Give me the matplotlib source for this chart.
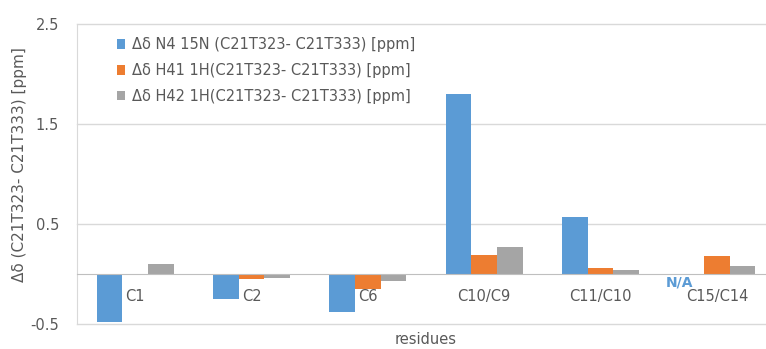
import numpy as np
import matplotlib
matplotlib.use("Agg")
import matplotlib.pyplot as plt

residues = ["C1", "C2", "C6", "C10/C9", "C11/C10", "C15/C14"]
n4_15n = [-0.48, -0.25, -0.38, 1.80, 0.57, np.nan]
h41_1h = [0.0, -0.05, -0.15, 0.19, 0.06, 0.18]
h42_1h = [0.10, -0.04, -0.07, 0.27, 0.045, 0.08]
labels = ["Δδ N4 15N (C21T323- C21T333) [ppm]",
          "Δδ H41 1H(C21T323- C21T333) [ppm]",
          "Δδ H42 1H(C21T323- C21T333) [ppm]"]
colors = ["#5B9BD5", "#ED7D31", "#A5A5A5"]

txt = "#595959"
plt.rcParams['font.family'] = ['DejaVu Sans']

fig = plt.figure(figsize=(7.66, 3.49), dpi=100)
ax = fig.add_axes([77 / 766, 25 / 349, 698 / 766, 300 / 349])

x = np.arange(len(residues))
w = 0.22
for i, (vals, lab, c) in enumerate(zip([n4_15n, h41_1h, h42_1h], labels, colors)):
    ax.bar(x + (i - 1) * w, vals, w, color=c, label=lab, zorder=3)

# missing value marker
for xi, v in zip(x, n4_15n):
    if np.isnan(v):
        ax.text(xi - w * 1.45, -0.01, "N/A", color=colors[0], fontsize=10,
                fontweight='bold', ha='center', va='top')

ax.set_xlim(-0.5, len(residues) - 0.5)
ax.set_ylim(-0.5, 2.5)
ax.set_yticks([-0.5, 0.5, 1.5, 2.5])
ax.set_yticklabels(["-0.5", "0.5", "1.5", "2.5"])
ax.set_xticks(x)
ax.set_xticklabels(residues)

ax.grid(axis='y', color="#d9d9d9", linewidth=1, zorder=0)
for gl in ax.get_ygridlines():
    gl.set_clip_on(False)
ax.spines['top'].set_visible(False)
ax.spines['right'].set_visible(False)
ax.spines['left'].set_color("#d9d9d9")
ax.spines['bottom'].set_position(('data', 0))
ax.spines['bottom'].set_color("#bfbfbf")
ax.spines['bottom'].set_zorder(4)
ax.tick_params(axis='both', length=0, colors=txt, labelsize=10.5)
ax.tick_params(axis='x', pad=11)
ax.tick_params(axis='y', pad=13)

ax.set_ylabel("Δδ (C21T323- C21T333) [ppm]", color=txt, fontsize=11)
ax.yaxis.set_label_coords(-0.071, 0.53)
ax.set_xlabel("residues", color=txt, fontsize=10.5)
ax.xaxis.set_label_coords(0.5, -0.025)

leg = ax.legend(loc='upper left', bbox_to_anchor=(0.038, 1.0), frameon=False,
                fontsize=10.5, handlelength=0.6, handleheight=0.6,
                handletextpad=0.45, labelspacing=0.75, labelcolor=txt)

fig.savefig("out.png", dpi=100)
